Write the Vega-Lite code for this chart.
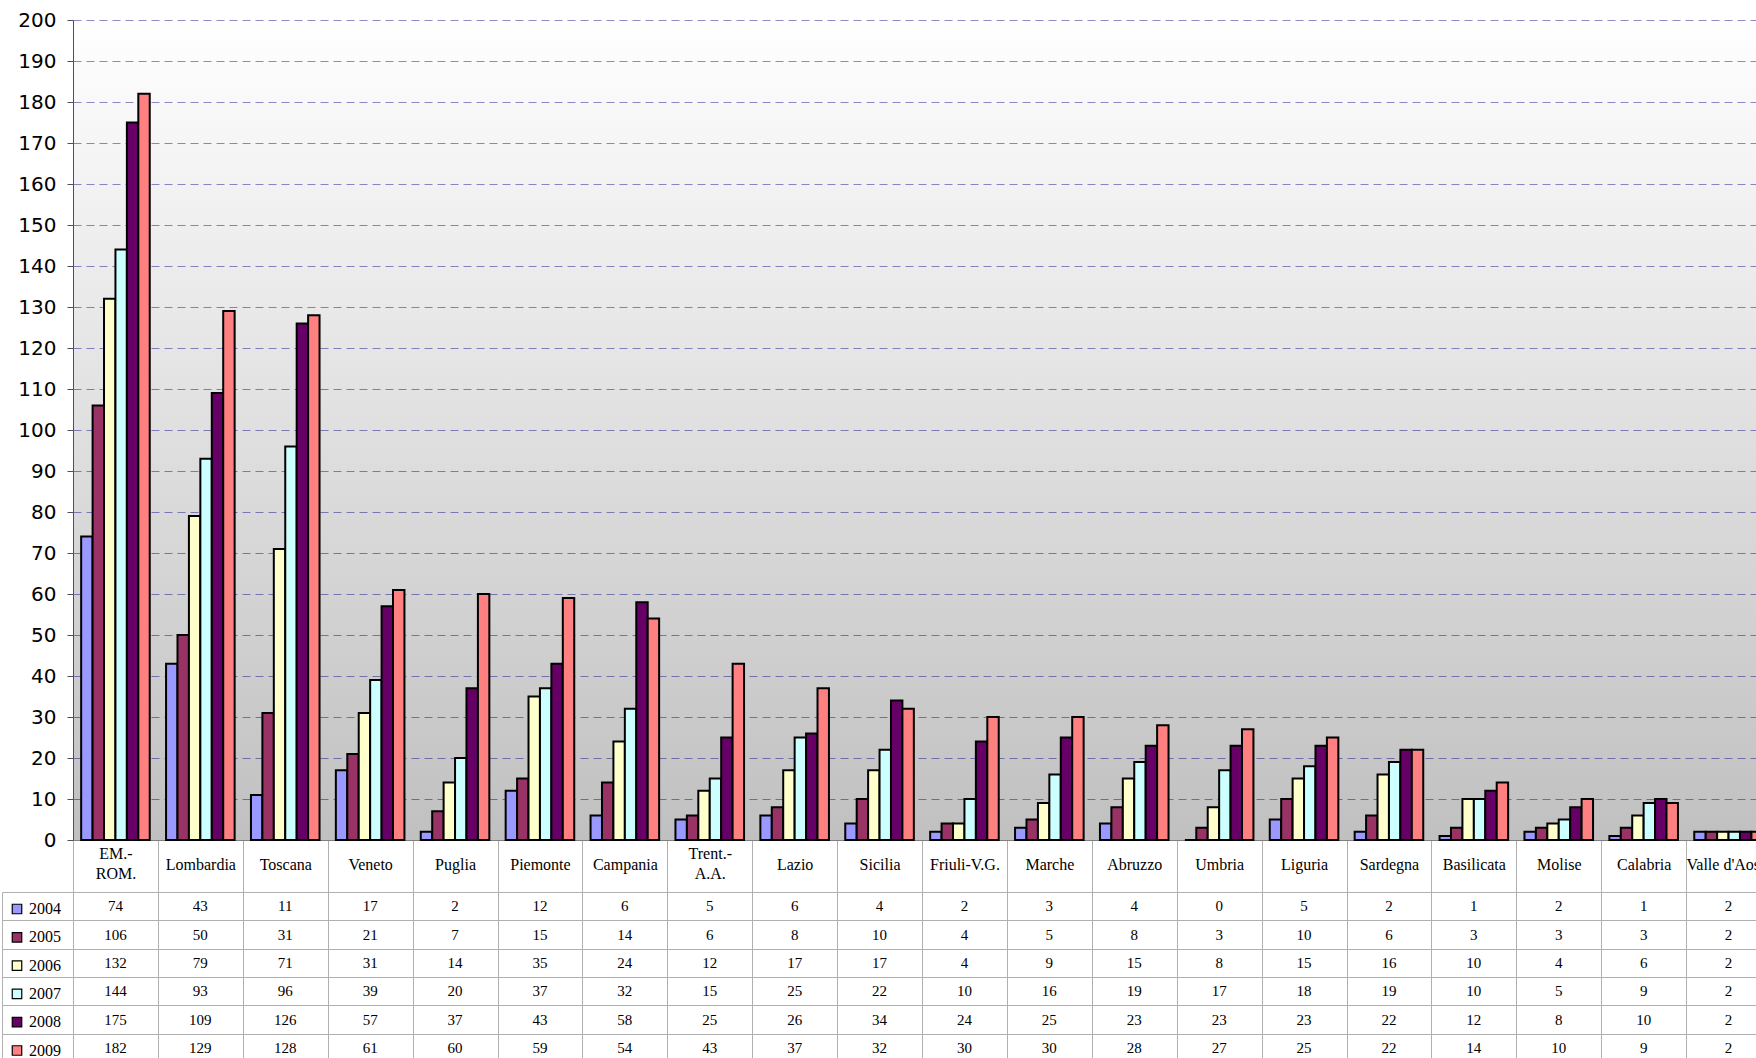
{
  "$schema": "https://vega.github.io/schema/vega-lite/v6.json",
  "autosize": "none",
  "width": 1683,
  "height": 820,
  "padding": {"left": 73, "top": 20, "right": 0, "bottom": 218},
  "background": "white",
  "config": {
    "view": {
      "stroke": null,
      "fill": {"gradient": "linear", "x1": 0, "y1": 0, "x2": 0, "y2": 1, "stops": [{"offset": 0, "color": "#ffffff"}, {"offset": 1, "color": "#c0c0c0"}]}
    }
  },
  "data": {
    "values": [
      {"region": "EM.-ROM.", "year": "2004", "value": 74}, {"region": "Lombardia", "year": "2004", "value": 43}, {"region": "Toscana", "year": "2004", "value": 11}, {"region": "Veneto", "year": "2004", "value": 17}, {"region": "Puglia", "year": "2004", "value": 2}, {"region": "Piemonte", "year": "2004", "value": 12}, {"region": "Campania", "year": "2004", "value": 6}, {"region": "Trent.-A.A.", "year": "2004", "value": 5}, {"region": "Lazio", "year": "2004", "value": 6}, {"region": "Sicilia", "year": "2004", "value": 4}, {"region": "Friuli-V.G.", "year": "2004", "value": 2}, {"region": "Marche", "year": "2004", "value": 3}, {"region": "Abruzzo", "year": "2004", "value": 4}, {"region": "Umbria", "year": "2004", "value": 0}, {"region": "Liguria", "year": "2004", "value": 5}, {"region": "Sardegna", "year": "2004", "value": 2}, {"region": "Basilicata", "year": "2004", "value": 1}, {"region": "Molise", "year": "2004", "value": 2}, {"region": "Calabria", "year": "2004", "value": 1}, {"region": "Valle d'Aosta", "year": "2004", "value": 2},
      {"region": "EM.-ROM.", "year": "2005", "value": 106}, {"region": "Lombardia", "year": "2005", "value": 50}, {"region": "Toscana", "year": "2005", "value": 31}, {"region": "Veneto", "year": "2005", "value": 21}, {"region": "Puglia", "year": "2005", "value": 7}, {"region": "Piemonte", "year": "2005", "value": 15}, {"region": "Campania", "year": "2005", "value": 14}, {"region": "Trent.-A.A.", "year": "2005", "value": 6}, {"region": "Lazio", "year": "2005", "value": 8}, {"region": "Sicilia", "year": "2005", "value": 10}, {"region": "Friuli-V.G.", "year": "2005", "value": 4}, {"region": "Marche", "year": "2005", "value": 5}, {"region": "Abruzzo", "year": "2005", "value": 8}, {"region": "Umbria", "year": "2005", "value": 3}, {"region": "Liguria", "year": "2005", "value": 10}, {"region": "Sardegna", "year": "2005", "value": 6}, {"region": "Basilicata", "year": "2005", "value": 3}, {"region": "Molise", "year": "2005", "value": 3}, {"region": "Calabria", "year": "2005", "value": 3}, {"region": "Valle d'Aosta", "year": "2005", "value": 2},
      {"region": "EM.-ROM.", "year": "2006", "value": 132}, {"region": "Lombardia", "year": "2006", "value": 79}, {"region": "Toscana", "year": "2006", "value": 71}, {"region": "Veneto", "year": "2006", "value": 31}, {"region": "Puglia", "year": "2006", "value": 14}, {"region": "Piemonte", "year": "2006", "value": 35}, {"region": "Campania", "year": "2006", "value": 24}, {"region": "Trent.-A.A.", "year": "2006", "value": 12}, {"region": "Lazio", "year": "2006", "value": 17}, {"region": "Sicilia", "year": "2006", "value": 17}, {"region": "Friuli-V.G.", "year": "2006", "value": 4}, {"region": "Marche", "year": "2006", "value": 9}, {"region": "Abruzzo", "year": "2006", "value": 15}, {"region": "Umbria", "year": "2006", "value": 8}, {"region": "Liguria", "year": "2006", "value": 15}, {"region": "Sardegna", "year": "2006", "value": 16}, {"region": "Basilicata", "year": "2006", "value": 10}, {"region": "Molise", "year": "2006", "value": 4}, {"region": "Calabria", "year": "2006", "value": 6}, {"region": "Valle d'Aosta", "year": "2006", "value": 2},
      {"region": "EM.-ROM.", "year": "2007", "value": 144}, {"region": "Lombardia", "year": "2007", "value": 93}, {"region": "Toscana", "year": "2007", "value": 96}, {"region": "Veneto", "year": "2007", "value": 39}, {"region": "Puglia", "year": "2007", "value": 20}, {"region": "Piemonte", "year": "2007", "value": 37}, {"region": "Campania", "year": "2007", "value": 32}, {"region": "Trent.-A.A.", "year": "2007", "value": 15}, {"region": "Lazio", "year": "2007", "value": 25}, {"region": "Sicilia", "year": "2007", "value": 22}, {"region": "Friuli-V.G.", "year": "2007", "value": 10}, {"region": "Marche", "year": "2007", "value": 16}, {"region": "Abruzzo", "year": "2007", "value": 19}, {"region": "Umbria", "year": "2007", "value": 17}, {"region": "Liguria", "year": "2007", "value": 18}, {"region": "Sardegna", "year": "2007", "value": 19}, {"region": "Basilicata", "year": "2007", "value": 10}, {"region": "Molise", "year": "2007", "value": 5}, {"region": "Calabria", "year": "2007", "value": 9}, {"region": "Valle d'Aosta", "year": "2007", "value": 2},
      {"region": "EM.-ROM.", "year": "2008", "value": 175}, {"region": "Lombardia", "year": "2008", "value": 109}, {"region": "Toscana", "year": "2008", "value": 126}, {"region": "Veneto", "year": "2008", "value": 57}, {"region": "Puglia", "year": "2008", "value": 37}, {"region": "Piemonte", "year": "2008", "value": 43}, {"region": "Campania", "year": "2008", "value": 58}, {"region": "Trent.-A.A.", "year": "2008", "value": 25}, {"region": "Lazio", "year": "2008", "value": 26}, {"region": "Sicilia", "year": "2008", "value": 34}, {"region": "Friuli-V.G.", "year": "2008", "value": 24}, {"region": "Marche", "year": "2008", "value": 25}, {"region": "Abruzzo", "year": "2008", "value": 23}, {"region": "Umbria", "year": "2008", "value": 23}, {"region": "Liguria", "year": "2008", "value": 23}, {"region": "Sardegna", "year": "2008", "value": 22}, {"region": "Basilicata", "year": "2008", "value": 12}, {"region": "Molise", "year": "2008", "value": 8}, {"region": "Calabria", "year": "2008", "value": 10}, {"region": "Valle d'Aosta", "year": "2008", "value": 2},
      {"region": "EM.-ROM.", "year": "2009", "value": 182}, {"region": "Lombardia", "year": "2009", "value": 129}, {"region": "Toscana", "year": "2009", "value": 128}, {"region": "Veneto", "year": "2009", "value": 61}, {"region": "Puglia", "year": "2009", "value": 60}, {"region": "Piemonte", "year": "2009", "value": 59}, {"region": "Campania", "year": "2009", "value": 54}, {"region": "Trent.-A.A.", "year": "2009", "value": 43}, {"region": "Lazio", "year": "2009", "value": 37}, {"region": "Sicilia", "year": "2009", "value": 32}, {"region": "Friuli-V.G.", "year": "2009", "value": 30}, {"region": "Marche", "year": "2009", "value": 30}, {"region": "Abruzzo", "year": "2009", "value": 28}, {"region": "Umbria", "year": "2009", "value": 27}, {"region": "Liguria", "year": "2009", "value": 25}, {"region": "Sardegna", "year": "2009", "value": 22}, {"region": "Basilicata", "year": "2009", "value": 14}, {"region": "Molise", "year": "2009", "value": 10}, {"region": "Calabria", "year": "2009", "value": 9}, {"region": "Valle d'Aosta", "year": "2009", "value": 2}
    ]
  },
  "layer": [
    {
      "mark": {"type": "bar", "stroke": "black", "strokeWidth": 2},
      "encoding": {
        "x": {
          "field": "region", "type": "nominal", "sort": null,
          "scale": {"range": [0, 1698], "paddingInner": 0, "paddingOuter": 0},
          "axis": {
            "orient": "bottom", "title": null, "tickBand": "extent", "tickSize": 218, "tickColor": "#b0b0b0", "tickWidth": 1,
            "domainColor": "#808080", "labelAngle": 0, "labelFont": "Liberation Serif", "labelFontSize": 16, "labelColor": "black",
            "labelPadding": {"condition": {"test": "datum.value == 'EM.-ROM.' || datum.value == 'Trent.-A.A.'", "value": -205}, "value": -194},
            "labelBaseline": "middle", "labelLineHeight": 20, "labelOverlap": false, "labelLimit": 0,
            "labelExpr": "datum.label == 'EM.-ROM.' ? ['EM.-', 'ROM.'] : datum.label == 'Trent.-A.A.' ? ['Trent.-', 'A.A.'] : datum.label"
          }
        },
        "xOffset": {"field": "year", "type": "nominal", "scale": {"paddingInner": 0, "paddingOuter": 0.714}},
        "y": {
          "field": "value", "type": "quantitative",
          "scale": {"domain": [0, 200], "nice": false},
          "axis": {
            "orient": "left", "title": null, "values": [0, 10, 20, 30, 40, 50, 60, 70, 80, 90, 100, 110, 120, 130, 140, 150, 160, 170, 180, 190, 200],
            "grid": true, "gridDash": [8, 5], "gridColor": "#000080", "gridOpacity": 0.45, "domainColor": "#505050", "tickColor": "#505050",
            "tickSize": 6, "labelFont": "DejaVu Sans", "labelFontSize": 20, "labelColor": "black", "labelPadding": 11
          }
        },
        "fill": {
          "field": "year", "type": "nominal",
          "scale": {"domain": ["2004", "2005", "2006", "2007", "2008", "2009"], "range": ["#9999ff", "#993366", "#ffffcc", "#ccffff", "#660066", "#ff8080"]},
          "legend": {
            "orient": "none", "legendX": -64, "legendY": 881, "direction": "vertical", "title": null, "symbolType": "square", "symbolSize": 90,
            "symbolStrokeColor": "black", "symbolStrokeWidth": 1.2, "labelFont": "Liberation Serif", "labelFontSize": 16, "labelColor": "black",
            "labelOffset": 4, "rowPadding": 12.3, "padding": 0
          }
        }
      }
    },
    {
      "mark": {"type": "text", "font": "Liberation Serif", "fontSize": 15, "color": "black"},
      "encoding": {
        "x": {"field": "region", "type": "nominal", "sort": null},
        "y": {
          "field": "year", "type": "ordinal",
          "scale": {"range": [872, 1042], "paddingInner": 0, "paddingOuter": 0},
          "axis": {
            "orient": "left", "title": null, "offset": 71, "tickBand": "extent", "tickSize": -71, "tickColor": "#b0b0b0",
            "domainColor": "#b0b0b0", "labels": false, "grid": true, "gridColor": "#b0b0b0", "gridOpacity": 1
          }
        },
        "text": {"field": "value", "type": "quantitative"}
      }
    }
  ],
  "resolve": {"scale": {"y": "independent"}}
}
